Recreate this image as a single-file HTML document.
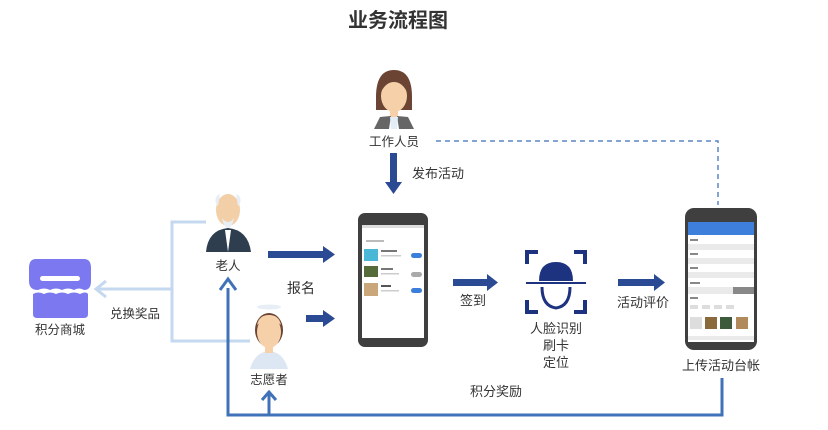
<!DOCTYPE html>
<html><head><meta charset="utf-8"><style>
html,body{margin:0;padding:0;background:#fff;}
svg{display:block;}
text{font-family:"Liberation Sans","Noto Sans CJK SC",sans-serif;fill:#333;}
</style></head><body>
<svg width="828" height="430" viewBox="0 0 828 430" xmlns="http://www.w3.org/2000/svg">
<defs>
<marker id="ah" markerWidth="10" markerHeight="10" refX="5" refY="5" orient="auto" markerUnits="userSpaceOnUse"></marker>
</defs>
<text x="398" y="27" font-size="20" font-weight="bold" text-anchor="middle" fill="#222">业务流程图</text>

<!-- woman -->
<g>
<path d="M376 97 Q376 70 394 70 Q412 70 412 97 L412 110 L376 110 Z" fill="#6b4433"/>
<ellipse cx="394" cy="96" rx="13" ry="16" fill="#f5d0a8"/>
<path d="M381 92 Q384 75 394 75 Q404 75 407 92 Q402 82 394 82 Q386 82 381 92Z" fill="#6b4433"/>
<rect x="390" y="108" width="8" height="9" fill="#f5d0a8"/>
<path d="M374 129 L380 117 L391 116 L389 129Z" fill="#666"/>
<path d="M414 129 L408 117 L397 116 L399 129Z" fill="#666"/>
<path d="M390 117 L398 117 L397 129 L391 129Z" fill="#e3edf8"/>
</g>
<text x="394" y="146" font-size="12.5" text-anchor="middle">工作人员</text>
<rect x="390" y="153" width="7" height="30" fill="#2a4a94"/>
<polygon points="385,182 402,182 393.5,194" fill="#2a4a94"/>
<text x="412" y="178" font-size="13" fill="#444">发布活动</text>
<path d="M436 141 H718 V205" fill="none" stroke="#5b86c4" stroke-width="1.5" stroke-dasharray="5,4"/>

<!-- old man -->
<g>
<path d="M206 252 Q208 230 228 228 Q248 230 251 252Z" fill="#2f3e4f"/>
<path d="M225 230 L228 252 L231 230Z" fill="#fff"/>
<ellipse cx="228" cy="210" rx="12" ry="16" fill="#f2cfa6"/>
<path d="M216 204 Q214 196 220 194 L218 206Z" fill="#e8eef6"/>
<path d="M240 204 Q242 196 236 194 L238 206Z" fill="#e8eef6"/>
<path d="M222 218 Q228 226 234 218 Q232 228 228 228 Q224 228 222 218Z" fill="#e8eef6"/>
</g>
<text x="228" y="270" font-size="12.5" text-anchor="middle">老人</text>

<!-- volunteer -->
<g>
<ellipse cx="269" cy="307" rx="12" ry="2.5" fill="#e8eef6"/>
<ellipse cx="269" cy="330" rx="14" ry="17" fill="#6b4433"/>
<ellipse cx="269" cy="332" rx="12" ry="16" fill="#f5d0a8"/>
<path d="M257 325 Q259 315 269 315 Q279 315 281 325 Q275 320 269 320 Q263 320 257 325Z" fill="#f5d0a8"/>
<path d="M250 369 Q254 355 264 352 L274 352 Q284 355 288 369Z" fill="#dde7f3"/>
<rect x="265" y="345" width="8" height="8" fill="#f5d0a8"/>
</g>
<text x="269" y="384" font-size="12.5" text-anchor="middle">志愿者</text>

<!-- register arrows -->
<rect x="268" y="251" width="56" height="7" fill="#2a4a94"/>
<polygon points="323,246 335,254.5 323,263" fill="#2a4a94"/>
<rect x="306" y="315" width="18" height="7" fill="#2a4a94"/>
<polygon points="323,310 335,318.5 323,327" fill="#2a4a94"/>
<text x="287" y="293" font-size="14" fill="#444">报名</text>

<!-- light blue bracket -->
<path d="M206 222 H172 V341 H250 M172 289 H98" fill="none" stroke="#c4d8ef" stroke-width="3"/>
<path d="M106 281 L96 289 L106 297" fill="none" stroke="#c4d8ef" stroke-width="3"/>
<text x="110" y="318" font-size="12.5" text-anchor="start">兑换奖品</text>

<!-- store -->
<g fill="#7b78f0">
<path d="M36 259 H84 Q91 259 91 268 V281 Q91 290 84 290 Q79 287 74 290 Q68 287 62 290 Q56 287 50 290 Q44 287 38 290 Q29 290 29 281 V268 Q29 259 36 259Z"/>
<path d="M33 294 Q38 291 44 294 Q50 291 56 294 Q62 291 68 294 Q74 291 80 294 Q86 291 88 294 V314 Q88 318 84 318 H37 Q33 318 33 314Z"/>
</g>
<rect x="40" y="276" width="40" height="5" rx="2.5" fill="#fff"/>
<text x="60" y="334" font-size="12.5" text-anchor="middle">积分商城</text>

<!-- phone 1 -->
<rect x="358" y="213" width="70" height="134" rx="7" fill="#3f3f3f"/>
<rect x="362" y="225" width="62" height="113" fill="#fff"/>
<rect x="362" y="225" width="62" height="3" fill="#ddd"/>
<rect x="366" y="240" width="18" height="2" fill="#bbb"/>
<rect x="364" y="249" width="14" height="12" fill="#4ab7d6"/>
<rect x="381" y="250" width="16" height="2" fill="#777"/><rect x="381" y="255" width="20" height="1.5" fill="#ccc"/>
<rect x="411" y="253" width="11" height="5" rx="2.5" fill="#3b7fdb"/>
<rect x="364" y="266" width="14" height="11" fill="#556b3a"/>
<rect x="381" y="268" width="12" height="2" fill="#777"/><rect x="381" y="273" width="18" height="1.5" fill="#ccc"/>
<rect x="411" y="272" width="11" height="5" rx="2.5" fill="#aaa"/>
<rect x="364" y="283" width="14" height="13" fill="#c9a77a"/>
<rect x="381" y="285" width="10" height="2" fill="#555"/><rect x="381" y="290" width="18" height="1.5" fill="#ccc"/>
<rect x="411" y="288" width="11" height="5" rx="2.5" fill="#3b7fdb"/>

<!-- arrow to face -->
<rect x="453" y="279" width="35" height="7" fill="#2a4a94"/>
<polygon points="487,274 498,282.5 487,291" fill="#2a4a94"/>
<text x="460" y="305" font-size="13" fill="#444">签到</text>

<!-- face icon -->
<g fill="none" stroke="#1e3380" stroke-width="4">
<path d="M527 264 V252 H538"/><path d="M574 252 H585 V264"/>
<path d="M527 300 V312 H538"/><path d="M574 312 H585 V300"/>
</g>
<path d="M539 281 Q539 262 556 262 Q573 262 573 281Z" fill="#1e3380"/>
<line x1="526" y1="283" x2="586" y2="283" stroke="#1e3380" stroke-width="2"/>
<path d="M542 287 Q542 306 556 308 Q570 306 570 287" fill="none" stroke="#1e3380" stroke-width="3"/>
<text x="556" y="333" font-size="13" text-anchor="middle">人脸识别</text>
<text x="556" y="350" font-size="13" text-anchor="middle">刷卡</text>
<text x="556" y="367" font-size="13" text-anchor="middle">定位</text>

<!-- arrow to phone2 -->
<rect x="618" y="279" width="37" height="7" fill="#2a4a94"/>
<polygon points="654,274 665,282.5 654,291" fill="#2a4a94"/>
<text x="617" y="307" font-size="13" fill="#444">活动评价</text>

<!-- phone 2 -->
<rect x="685" y="208" width="72" height="142" rx="9" fill="#3f3f3f"/>
<rect x="688" y="222" width="66" height="120" fill="#fff"/>
<rect x="688" y="222" width="66" height="13" fill="#3f7fdc"/>
<g fill="#eaeaea">
<rect x="688" y="244" width="66" height="6"/><rect x="688" y="258" width="66" height="6"/>
<rect x="688" y="272" width="66" height="6"/><rect x="688" y="287" width="66" height="7"/>
</g>
<rect x="733" y="287" width="21" height="7" fill="#888"/>
<g fill="#888"><rect x="690" y="239" width="8" height="2"/><rect x="690" y="253" width="8" height="2"/><rect x="690" y="267" width="8" height="2"/><rect x="690" y="282" width="10" height="2"/><rect x="690" y="297" width="8" height="2"/></g>
<rect x="690" y="305" width="8" height="4" fill="#ddd"/><rect x="702" y="305" width="8" height="4" fill="#ddd"/><rect x="714" y="305" width="8" height="4" fill="#ddd"/><rect x="726" y="305" width="8" height="4" fill="#ddd"/>
<rect x="690" y="317" width="12" height="12" fill="#ddd"/>
<rect x="705" y="317" width="12" height="12" fill="#8a6a3a"/>
<rect x="720" y="317" width="12" height="12" fill="#3d5a3a"/>
<rect x="736" y="317" width="12" height="12" fill="#b08a5a"/>
<rect x="688" y="336" width="66" height="4" fill="#eaeaea"/>
<text x="721" y="370" font-size="13" text-anchor="middle">上传活动台帐</text>

<!-- bottom reward line -->
<path d="M722 378 V415 H228 V288" fill="none" stroke="#3f72b8" stroke-width="3"/>
<path d="M220 290 L228 279 L236 290" fill="none" stroke="#3f72b8" stroke-width="3"/>
<path d="M269 415 V394" fill="none" stroke="#3f72b8" stroke-width="3"/>
<path d="M262 400 L269 392 L276 400" fill="none" stroke="#3f72b8" stroke-width="3"/>
<text x="496" y="396" font-size="13" text-anchor="middle">积分奖励</text>
</svg>
</body></html>
